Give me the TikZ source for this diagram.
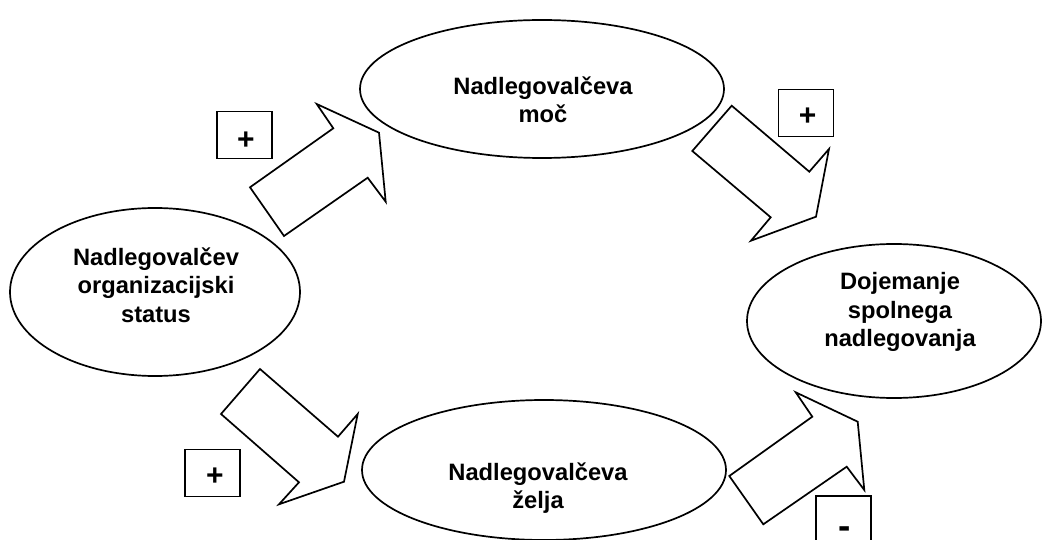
\documentclass[tikz,border=0pt]{standalone}
\usepackage{fontspec}
\setmainfont{Liberation Sans}
\usetikzlibrary{shapes.geometric}
\begin{document}
\begin{tikzpicture}[x=1pt,y=-1pt, line width=1.7pt,
  oval/.style={draw, ellipse, inner sep=0pt},
  lbl/.style={font=\bfseries\fontsize{23.7}{28.5}\selectfont, align=center, inner sep=0pt},
  signbox/.style={draw, minimum width=55pt, minimum height=47pt, inner sep=0pt},
  sign/.style={font=\bfseries\fontsize{30}{32}\selectfont, inner sep=0pt},
  blockarrow/.style={draw, line join=miter, fill=white}]
\useasboundingbox (0,0) rectangle (1042,540);
\clip (0,0) rectangle (1042,540);
\fill[white] (0,0) rectangle (1042,540);

% ellipses
\node[oval, minimum width=364pt, minimum height=138pt] (power) at (542,89) {};
\node[oval, minimum width=290pt, minimum height=168pt] (status) at (155,292) {};
\node[oval, minimum width=294pt, minimum height=154pt] (perception) at (894,321) {};
\node[oval, minimum width=364pt, minimum height=140pt] (desire) at (544,470) {};

% labels
\node[lbl] (powerT) at (543,100) {Nadlegovalčeva\\moč};
\node[lbl] (statusT) at (156,285) {Nadlegovalčev\\organizacijski\\status};
\node[lbl] (perceptionT) at (900,312) {Dojemanje\\spolnega\\nadlegovanja};
\node[lbl] (desireT) at (538,488) {Nadlegovalčeva\\želja};

% block arrows
\draw[blockarrow] (250.0,187.3) -- (333.3,128.3) -- (316.7,104.0) -- (379.0,132.7) -- (385.7,201.7) -- (367.7,177.7) -- (284.0,236.0) -- cycle;
\draw[blockarrow] (731.7,105.7) -- (809.3,171.7) -- (829,149) -- (816,216.7) -- (751,240.7) -- (770.7,217.3) -- (692.3,151) -- cycle;
\draw[blockarrow] (260,369) -- (338,436.7) -- (357.7,414) -- (344,481.7) -- (279,504.3) -- (299,482.3) -- (221,414) -- cycle;
\draw[blockarrow] (729.3,476) -- (812.3,416.7) -- (795.7,392.3) -- (857.7,421.7) -- (864.3,490) -- (846.7,466.7) -- (763.3,524.3) -- cycle;

% sign boxes
\node[signbox] (box1) at (244.2,135) {};
\node[signbox] (box2) at (806,113) {};
\node[signbox] (box3) at (212.5,473) {};
\node[signbox] (box4) at (843.7,519.2) {};

\node[sign] (sign1) at (245.8,141.2) {+};
\node[sign] (sign2) at (807.7,116.7) {+};
\node[sign] (sign3) at (215,476.7) {+};
\node[sign, font=\bfseries\fontsize{37}{39}\selectfont] (sign4) at (844.7,532.5) {-};
\end{tikzpicture}
\end{document}
